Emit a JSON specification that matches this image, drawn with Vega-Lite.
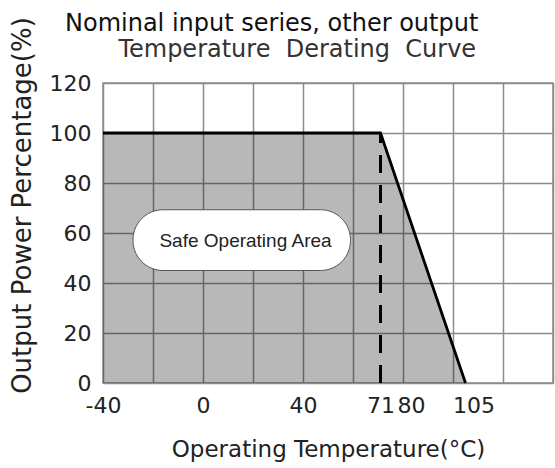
{
  "$schema": "https://vega.github.io/schema/vega-lite/v6.json",
  "width": 450,
  "height": 300,
  "autosize": {"type": "none"},
  "padding": {"left": 103, "top": 83, "right": 2, "bottom": 85},
  "background": "white",
  "title": {
    "text": "Nominal input series, other output",
    "subtitle": "\u200b\u00a0\u00a0\u00a0\u00a0\u00a0\u00a0\u00a0Temperature\u00a0\u00a0Derating\u00a0\u00a0Curve",
    "anchor": "start",
    "frame": "group",
    "dx": -38,
    "offset": -45,
    "font": "DejaVu Sans",
    "fontSize": 24,
    "fontWeight": "normal",
    "color": "#111111",
    "subtitleFont": "DejaVu Sans",
    "subtitleFontSize": 24,
    "subtitleColor": "#333333",
    "subtitlePadding": 2
  },
  "config": {
    "view": {"stroke": "#8c8c8c", "strokeWidth": 1.5},
    "axis": {
      "labelFont": "DejaVu Sans",
      "labelFontSize": 22,
      "labelColor": "#222222",
      "titleFont": "DejaVu Sans",
      "titleFontWeight": "normal",
      "titleColor": "#222222",
      "gridColor": "#8c8c8c",
      "gridWidth": 1.5,
      "gridOpacity": 1,
      "ticks": false,
      "domain": false
    }
  },
  "datasets": {
    "curve": [
      {"t": -40, "p": 100},
      {"t": 71, "p": 100},
      {"t": 105, "p": 0}
    ],
    "marker": [{"t": 71, "lo": 0, "hi": 100}],
    "pill": [{"x1": -28, "x2": 59, "y1": 45, "y2": 69.3, "cx": 17, "cy": 57, "label": "Safe Operating Area"}]
  },
  "layer": [
    {
      "data": {"name": "curve"},
      "mark": {"type": "area", "color": "#000000", "fillOpacity": 0.28, "line": false},
      "encoding": {
        "x": {
          "field": "t",
          "type": "quantitative",
          "scale": {"domain": [-40, 140], "nice": false, "zero": false},
          "axis": {
            "title": "Operating Temperature(°C)",
            "titleFontSize": 23,
            "titlePadding": 22,
            "values": [-40, -20, 0, 20, 40, 60, 71, 80, 100, 105, 120, 140],
            "labelExpr": "indexof([-40, 0, 40, 71, 80, 105], datum.value) >= 0 ? '' + datum.value : ''",
            "labelPadding": 12,
            "labelFlush": false,
            "labelOverlap": false,
            "labelOffset": {"condition": {"test": "datum.value == 80 || datum.value == 105", "value": 8}, "value": 0},
            "gridOpacity": {"condition": {"test": "datum.value == 71 || datum.value == 105", "value": 0}, "value": 1}
          }
        },
        "y": {
          "field": "p",
          "type": "quantitative",
          "scale": {"domain": [0, 120], "nice": false},
          "axis": {
            "title": "Output Power Percentage(%)",
            "titleFontSize": 26,
            "titlePadding": 14,
            "titleY": 122,
            "values": [0, 20, 40, 60, 80, 100, 120],
            "labelPadding": 12
          }
        }
      }
    },
    {
      "data": {"name": "pill"},
      "mark": {"type": "rect", "fill": "white", "stroke": "#555555", "strokeWidth": 1, "cornerRadius": 30},
      "encoding": {
        "x": {"field": "x1", "type": "quantitative"},
        "x2": {"field": "x2"},
        "y": {"field": "y1", "type": "quantitative"},
        "y2": {"field": "y2"}
      }
    },
    {
      "data": {"name": "pill"},
      "mark": {"type": "text", "font": "Liberation Sans", "fontSize": 19, "color": "#222222", "align": "center", "baseline": "middle"},
      "encoding": {
        "x": {"field": "cx", "type": "quantitative"},
        "y": {"field": "cy", "type": "quantitative"},
        "text": {"field": "label"}
      }
    },
    {
      "data": {"name": "curve"},
      "mark": {"type": "line", "color": "#000000", "strokeWidth": 2.8, "strokeJoin": "miter"},
      "encoding": {
        "x": {"field": "t", "type": "quantitative"},
        "y": {"field": "p", "type": "quantitative"}
      }
    },
    {
      "data": {"name": "marker"},
      "mark": {"type": "rule", "color": "#000000", "strokeWidth": 3, "strokeDash": [18, 12]},
      "encoding": {
        "x": {"field": "t", "type": "quantitative"},
        "y": {"field": "lo", "type": "quantitative"},
        "y2": {"field": "hi"}
      }
    }
  ]
}
